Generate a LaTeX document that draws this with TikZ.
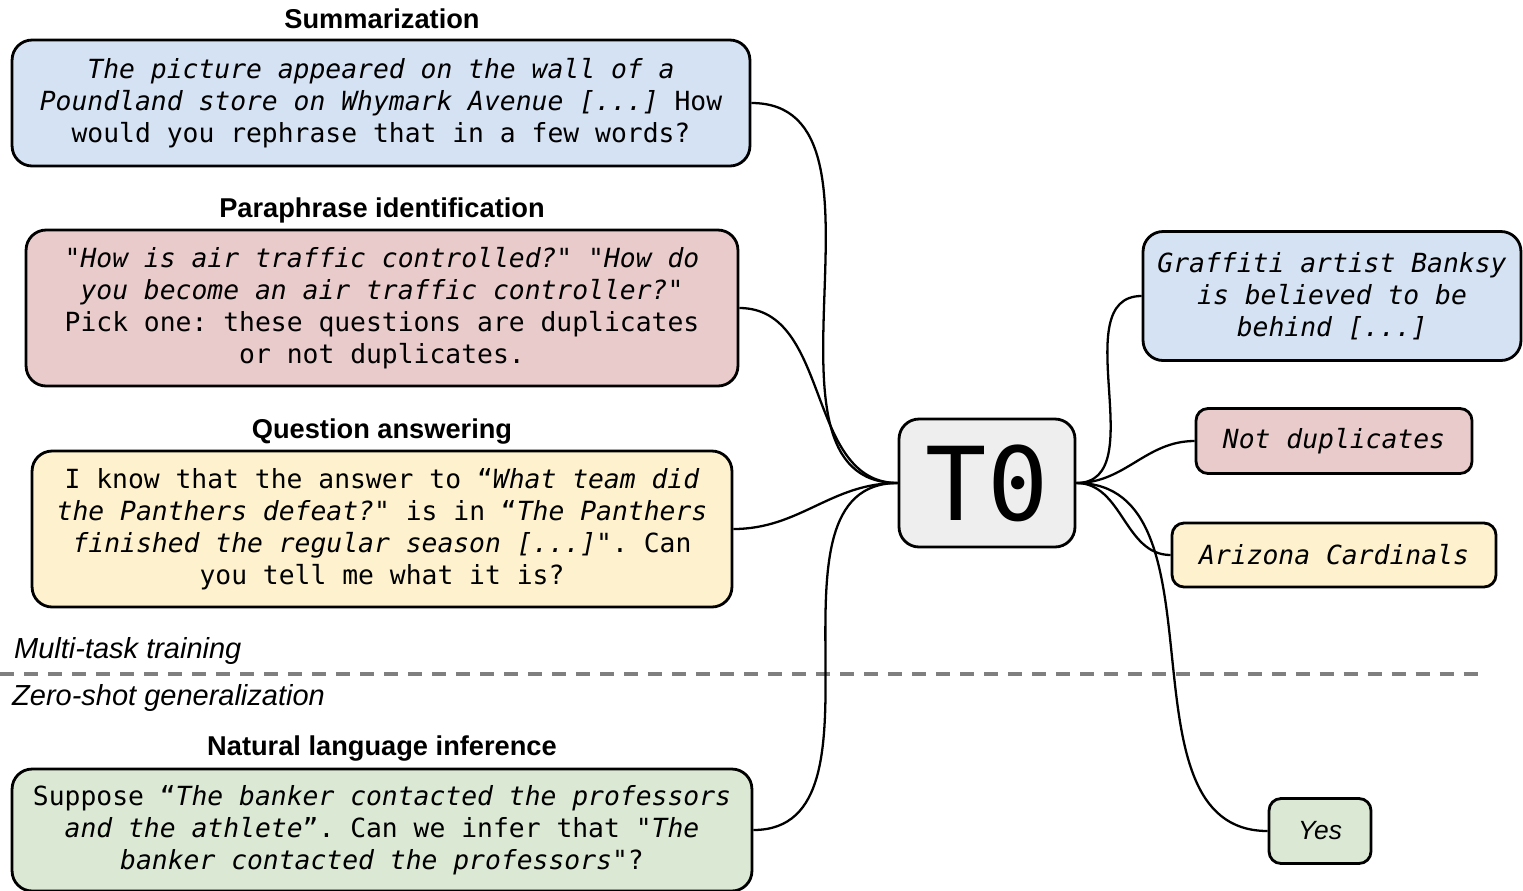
\documentclass[tikz,border=0pt]{standalone}
\usepackage{fontspec}
\setsansfont{Liberation Sans}
\setmonofont{DejaVu Sans Mono}

\definecolor{azul}{HTML}{D5E2F3}
\definecolor{rojo}{HTML}{E9CBCB}
\definecolor{amarillo}{HTML}{FDF2CD}
\definecolor{verde}{HTML}{DAE8D4}
\definecolor{gris}{HTML}{EEEEEE}
\definecolor{raya}{HTML}{7F7F7F}

\begin{document}
\begin{tikzpicture}[x=0.02cm,y=-0.02cm]

% estilos de caja, texto y enlace
\tikzstyle{caja}   = [draw=black,line width=1.6pt,rounded corners=0.4cm,align=center,inner sep=0pt,font=\fontsize{15}{18.2}\selectfont\ttfamily]
\tikzstyle{resp}   = [caja,rounded corners=0.24cm]
\tikzstyle{titulo} = [font=\fontsize{15.5}{18}\selectfont\sffamily\bfseries]
\tikzstyle{fase}   = [anchor=west,font=\fontsize{16.5}{18}\selectfont\sffamily\itshape]
\tikzstyle{enlace} = [line width=1.3pt,out=0,in=180]

\useasboundingbox (0,0) rectangle (1523,890);

% tareas de entrenamiento
\node[titulo] (tsum) at (382,19) {Summarization};
\node[caja,fill=azul,minimum width=14.76cm,minimum height=2.52cm] (sum) at (381,103)
{\textit{The picture appeared on the wall of a}\\
 \textit{Poundland store on Whymark Avenue [...]} How\\
 would you rephrase that in a few words?};

\node[titulo] (tpar) at (382,210) {Paraphrase identification};
\node[caja,fill=rojo,minimum width=14.24cm,minimum height=3.12cm] (par) at (382,308)
{\textit{"How is air traffic controlled?" "How do}\\
 \textit{you become an air traffic controller?"}\\
 Pick one: these questions are duplicates\\
 or not duplicates.};

\node[titulo] (tqa) at (382,432) {Question answering};
\node[caja,fill=amarillo,minimum width=14cm,minimum height=3.12cm] (qa) at (382,529)
{I know that the answer to “\textit{What team did}\\
 \textit{the Panthers defeat?}" is in “\textit{The Panthers}\\
 \textit{finished the regular season [...]}". Can\\
 you tell me what it is?};

% separacion
\node[fase] (multi) at (8,651) {Multi-task training};
\draw[raya,line width=2pt,dash pattern=on 0.28cm off 0.2cm] (0,674) -- (1485,674);
\node[fase] (zero) at (6,698) {Zero-shot generalization};

% tarea de prueba
\node[titulo] (tnli) at (382,749) {Natural language inference};
\node[caja,fill=verde,minimum width=14.8cm,minimum height=2.44cm] (nli) at (382,830)
{Suppose “\textit{The banker contacted the professors}\\
 \textit{and the athlete}”. Can we infer that "\textit{The}\\
 \textit{banker contacted the professors}"?};

% modelo
\node[caja,fill=gris,minimum width=3.52cm,minimum height=2.56cm,font=\fontsize{58}{60}\selectfont\ttfamily] (t0) at (987,483) {T0};

% respuestas
\node[caja,fill=azul,minimum width=7.56cm,minimum height=2.58cm] (rsum) at (1332,296)
{\textit{Graffiti artist Banksy}\\ \textit{is believed to be}\\ \textit{behind [...]}};
\node[resp,fill=rojo,minimum width=5.52cm,minimum height=1.3cm] (rpar) at (1334,441) {\textit{Not duplicates}};
\node[resp,fill=amarillo,minimum width=6.48cm,minimum height=1.28cm] (rqa) at (1334,555) {\textit{Arizona Cardinals}};
\node[resp,fill=verde,minimum width=2.04cm,minimum height=1.3cm,font=\fontsize{15}{18}\selectfont\sffamily] (rnli) at (1320,831) {\textit{Yes}};

% enlaces
\draw[enlace] (sum.east) to (t0.west);
\draw[enlace] (par.east) to (t0.west);
\draw[enlace] (qa.east) to (t0.west);
\draw[enlace] (nli.east) to (t0.west);
\draw[enlace] (t0.east) to (rsum.west);
\draw[enlace] (t0.east) to (rpar.west);
\draw[enlace] (t0.east) to (rqa.west);
\draw[enlace] (t0.east) to (rnli.west);

\end{tikzpicture}
\end{document}
